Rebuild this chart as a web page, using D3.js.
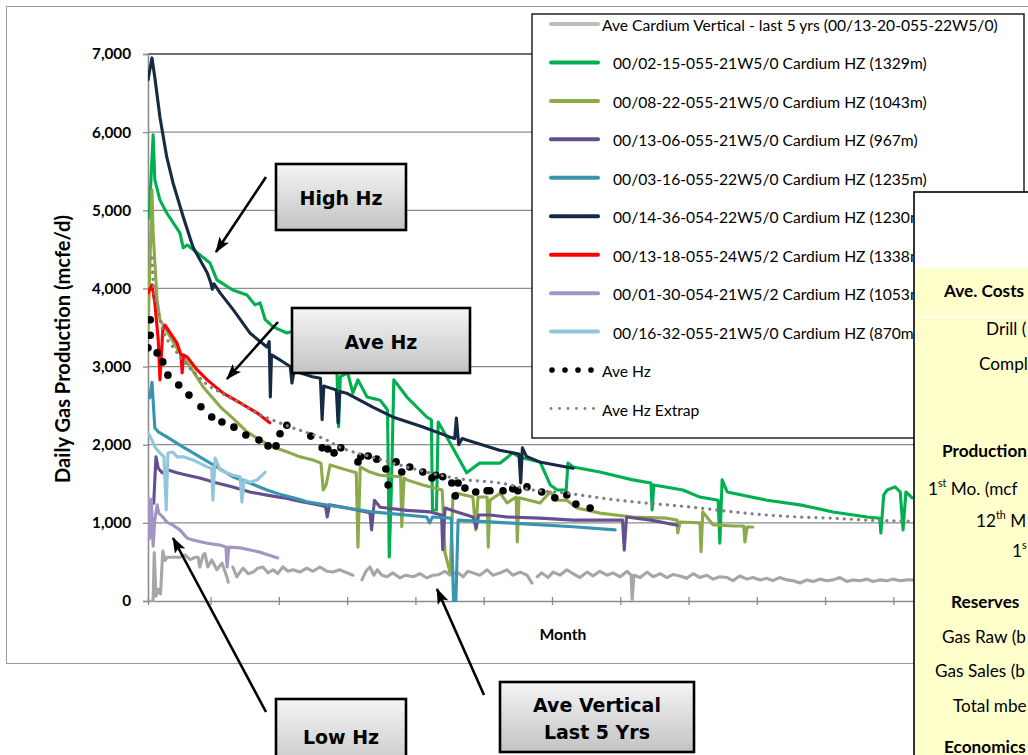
<!DOCTYPE html>
<html><head><meta charset="utf-8">
<script src="https://cdn.jsdelivr.net/npm/d3@7"></script>
<style>html,body{margin:0;padding:0;background:#fff;overflow:hidden}</style>
</head><body><svg id="c" width="1028" height="755"></svg>
<script>
// ---------------- DATA (month, mcfe/d) ----------------
const yTicks = [0,1000,2000,3000,4000,5000,6000,7000];
const xTickMonths = [0,11,23,35,47,59,71,83,95,107,119,131,143];

const aveVertical = [[0.6,0],[0.9,0],[1.1,620],[1.4,60],[1.8,150],[2.2,90],[2.6,640],[3.0,520],[3.4,560],[4.4,560],[5.6,560],[6.5,590],[7.4,530],[8.3,560],[8.8,560],[9.1,435],[9.7,590],[10.0,610],[10.5,435],[11.2,525],[12.1,400],[13.0,485],[13.9,300],[14.1,240],[14.5,null],[14.9,435],[15.6,310],[16.7,420],[17.6,350],[18.5,370],[19.3,420],[20.2,435],[21.1,360],[22.0,400],[22.8,350],[23.7,435],[24.6,380],[25.5,400],[26.7,370],[27.9,420],[29.0,380],[30.2,435],[31.5,380],[32.5,370],[33.7,400],[35.0,360],[36.0,330],[36.8,null],[37.6,270],[38.3,380],[39.0,435],[39.7,330],[40.3,400],[41.1,330],[42.0,310],[43.0,360],[44.3,295],[45.3,330],[46.6,310],[47.8,350],[49.0,295],[50.1,330],[51.0,335],[52.2,380],[53.1,330],[54.3,370],[55.4,310],[56.2,380],[57.1,360],[58.3,330],[59.6,400],[60.6,330],[61.9,360],[63.1,400],[64.1,330],[65.4,370],[66.6,330],[67.5,230],[68.0,null],[68.4,310],[69.2,360],[70.3,300],[71.2,370],[72.4,330],[73.6,400],[74.7,350],[75.9,300],[77.2,370],[78.2,320],[79.4,380],[80.7,330],[81.7,360],[83.0,310],[84.2,380],[84.9,330],[85.1,20],[85.4,330],[86.5,300],[87.7,370],[88.8,310],[90.0,350],[91.2,300],[92.3,340],[93.5,320],[94.7,290],[95.8,350],[97.0,300],[98.2,330],[99.3,280],[100.5,310],[101.8,300],[102.8,260],[104.0,320],[105.3,280],[106.3,300],[107.6,270],[108.8,290],[109.8,260],[111.0,300],[112.3,270],[113.4,260],[114.6,230],[115.8,270],[116.9,250],[118.1,280],[119.3,260],[120.4,270],[121.6,300],[122.8,250],[123.9,270],[125.1,260],[126.4,280],[127.4,250],[128.6,270],[129.9,260],[130.9,280],[132.2,260],[133.4,270],[134.4,270]];

const hz0215 = [[0.2,4900],[0.9,5965],[1.2,5390],[2.1,5130],[3.3,4965],[5.6,4710],[6.2,4520],[6.9,4555],[9.1,4430],[10.9,4325],[12.1,4110],[14.9,3980],[17.4,3915],[18.8,3790],[19.7,3815],[20.6,3600],[22.0,3507],[24.4,3430],[26.2,3470],[30.2,3190],[33.2,2960],[33.5,2230],[33.8,2870],[35.1,2920],[36.0,2660],[36.9,2830],[38.5,2610],[40.8,2570],[42.1,2445],[42.4,563],[42.8,1500],[43.2,2830],[43.9,2765],[45.5,2610],[49.0,2355],[49.8,2320],[50.0,1165],[50.7,1165],[51.0,2290],[52.5,2100],[56.0,1640],[58.3,1765],[61.9,1765],[64.1,1895],[65.3,1840],[68.9,1780],[70.7,1485],[71.9,1420],[73.5,1420],[73.8,1765],[74.7,1715],[79.4,1650],[85.2,1550],[88.4,1510],[88.6,1165],[88.9,1485],[94.0,1420],[97.0,1330],[100.2,1290],[100.5,740],[100.9,1550],[101.8,1395],[108.8,1290],[114.6,1230],[120.4,1140],[126.4,1075],[128.6,1060],[128.8,870],[129.3,1357],[129.9,1420],[131.3,1460],[132.2,1395],[132.7,910],[133.2,1395],[134.3,1320]];

const hz0822 = [[0,3430],[0.7,5260],[0.9,4710],[1.6,3850],[2.1,3600],[3.9,3380],[5.6,3175],[7.4,3000],[9.7,2740],[12.7,2485],[14.9,2340],[17.4,2165],[19.7,2060],[22.0,1970],[24.4,1910],[26.7,1845],[29.0,1805],[30.4,1765],[30.8,1420],[31.3,1485],[32.0,1740],[35.0,1675],[36.6,1640],[36.9,690],[37.3,1715],[39.0,1650],[40.8,1610],[44.4,1590],[44.6,950],[45.0,1575],[45.5,1550],[48.3,1485],[51.7,1420],[52.2,615],[53.1,360],[53.6,1357],[54.3,1380],[57.1,1330],[57.6,910],[58.0,1330],[59.6,1330],[59.8,690],[60.1,1290],[61.9,1380],[63.1,1255],[64.7,1330],[64.9,755],[65.2,1320],[68.9,1255],[70.7,1395],[71.9,1290],[73.6,1290],[75.4,1190],[79.4,1125],[85.2,1075],[91.2,1060],[93.0,1035],[93.1,870],[93.5,1010],[97.0,1000],[97.2,630],[97.5,1140],[99.3,975],[102.8,960],[104.7,960],[104.9,755],[105.3,947],[106.3,947]];

const hz1306 = [[1.0,1250],[1.4,1845],[1.8,1700],[2.5,1640],[3.4,1680],[5.1,1640],[6.9,1610],[9.1,1575],[12.1,1510],[14.9,1460],[17.9,1395],[20.9,1355],[23.8,1320],[27.0,1270],[30.0,1230],[31.2,1210],[31.5,1075],[31.9,1230],[35.0,1190],[39.0,1130],[39.3,910],[39.8,1290],[40.8,1200],[45.5,1160],[49.6,1140],[51.6,1100],[51.8,655],[52.2,1190],[54.3,1140],[57.1,1075],[57.7,935],[58.1,1100],[60.1,1100],[63.1,1075],[68.9,1060],[74.7,1035],[83.4,1035],[83.7,650],[84.1,1075],[88.4,1035],[93.0,970]];

const hz0316 = [[0.3,2600],[0.7,2800],[1.2,2215],[1.8,2165],[3.3,2100],[6.2,1970],[9.1,1845],[12.1,1715],[14.9,1590],[17.9,1510],[20.9,1420],[23.7,1355],[26.7,1300],[27.9,1270],[33.7,1203],[39.5,1140],[49.0,1075],[49.5,1000],[50.0,1075],[53.3,1060],[53.7,0],[54.1,0],[54.5,1035],[63.1,1000],[74.7,950],[82.1,910]];

const hz1436 = [[0,6670],[0.7,6950],[1.2,6700],[2.1,6190],[3.3,5680],[4.4,5350],[6.2,4915],[7.9,4530],[10.4,4200],[11.0,4080],[11.3,3990],[11.6,4060],[12.7,3940],[15.0,3725],[17.9,3430],[20.9,3250],[21.3,3320],[21.5,2610],[21.7,3150],[23.2,3085],[25.0,3000],[25.3,2790],[25.7,2950],[26.7,2920],[28.9,2870],[30.3,2850],[30.6,2320],[30.9,2750],[31.4,2740],[33.1,2700],[33.4,2280],[33.7,2680],[34.9,2660],[39.5,2480],[43.0,2355],[48.2,2230],[53.0,2100],[53.9,2080],[54.2,2340],[54.6,2000],[55.2,2080],[56.0,2060],[61.8,1930],[65.2,1880],[65.5,1510],[65.8,1960],[66.5,1850],[68.8,1780],[74.7,1700]];

const hz1318 = [[0,3940],[0.7,4045],[1.2,3815],[1.8,3340],[2.1,2830],[2.6,3470],[3.0,3530],[3.9,3430],[5.1,3300],[5.8,3150],[6.0,2920],[6.2,3150],[6.9,3120],[8.6,2960],[10.4,2830],[13.2,2660],[16.2,2535],[19.2,2405],[21.4,2280]];

const hz0130 = [[0,1330],[0.3,800],[0.6,1300],[0.9,700],[1.2,1035],[1.6,1230],[1.9,1125],[2.6,1075],[3.3,1010],[4.4,970],[5.6,910],[6.9,805],[7.9,780],[10.4,740],[12.7,715],[13.7,690],[13.9,435],[14.2,690],[16.2,680],[19.7,625],[22.8,550]];

const hz1632 = [[0,2150],[0.7,2060],[1.2,1970],[2.1,1895],[2.8,1845],[3.2,1165],[3.5,1895],[4.4,1905],[5.1,1845],[6.2,1845],[7.9,1805],[10.4,1715],[11.2,1700],[11.4,1290],[11.8,1830],[12.7,1675],[14.9,1610],[16.2,1590],[16.5,1265],[16.9,1550],[17.9,1520],[19.2,1550],[20.6,1650]];

const aveHz = [[0,3240],[0.4,3600],[0.4,3400],[1.6,3175],[2.6,3060],[3.5,2890],[5.4,2765],[7.2,2635],[9.3,2485],[11.2,2355],[13.0,2290],[15.1,2225],[17.2,2125],[19.5,2060],[21.1,1985],[22.5,1985],[23.2,2140],[24.4,2250],[28.6,2110],[30.6,1960],[31.6,1945],[32.7,1895],[33.9,1960],[36.9,1780],[37.4,1845],[38.7,1855],[40.2,1815],[41.8,1690],[42.2,1485],[43.6,1780],[44.6,1650],[46.0,1715],[48.3,1650],[49.9,1575],[50.6,1610],[51.8,1590],[53.4,1510],[54.0,1345],[54.5,1510],[55.7,1445],[57.6,1395],[59.6,1410],[60.1,1410],[62.4,1410],[64.1,1435],[65.0,1410],[66.6,1460],[69.2,1395],[71.5,1320],[73.6,1357],[75.2,1240],[77.7,1190]];

const aveHzExtrap = [[0.7,4390],[0.9,4100],[1.6,3770],[2.6,3470],[4.4,3250],[6.2,3070],[7.9,2940],[10.4,2770],[13.2,2650],[16.2,2530],[19.2,2400],[22.1,2310],[25.1,2225],[28.1,2150],[31.1,2070],[33.7,1970],[39.5,1840],[45.5,1715],[51.3,1610],[56.0,1550],[61.9,1510],[67.7,1420],[73.6,1380],[79.4,1320],[85.2,1270],[91.2,1230],[97.0,1190],[102.8,1140],[108.8,1100],[114.6,1075],[120.4,1060],[126.4,1035],[132.2,1025],[140,1015]];

const seriesNames = [
  "Ave Cardium Vertical - last 5 yrs (00/13-20-055-22W5/0)",
  "00/02-15-055-21W5/0 Cardium HZ (1329m)",
  "00/08-22-055-21W5/0 Cardium HZ (1043m)",
  "00/13-06-055-21W5/0 Cardium HZ (967m)",
  "00/03-16-055-22W5/0 Cardium HZ (1235m)",
  "00/14-36-054-22W5/0 Cardium HZ (1230m)",
  "00/13-18-055-24W5/2 Cardium HZ (1338m)",
  "00/01-30-054-21W5/2 Cardium HZ (1053m)",
  "00/16-32-055-21W5/0 Cardium HZ (870m)",
  "Ave Hz",
  "Ave Hz Extrap"
];
const seriesColors = ["#a6a6a6","#00b050","#8caa4a","#65508f","#3795ae","#162a44","#ff0000","#a295c3","#92c6da","#000000","#808080"];
const lineSeries = [aveVertical, hz0215, hz0822, hz1306, hz0316, hz1436, hz1318, hz0130, hz1632];

// table text as visible in the (cropped) reference
const tableRows = [
  {t:"Ave. Costs", b:true, x:944, y:290},
  {t:"Drill (", x:986, y:328},
  {t:"Compl", x:979, y:363},
  {t:"Production", b:true, x:942, y:450},
  {t:"1|st| Mo. (mcf", x:928, y:488},
  {t:"12|th| M", x:976, y:520},
  {t:"1|s|", x:1012, y:550},
  {t:"Reserves", b:true, x:951, y:601},
  {t:"Gas Raw (b", x:942, y:636},
  {t:"Gas Sales (b", x:935, y:670},
  {t:"Total mbe", x:953, y:705},
  {t:"Economics", b:true, x:944, y:746}
];

// ---------------- DRAW ----------------
const svg = d3.select('#c');
const defs = svg.append('defs');
const BODY = "Lato, 'Open Sans', sans-serif";
const CALL = "'DejaVu Sans', Verdana, sans-serif";

function fitSize(family, weight, str, target, base) {
  base = base || 20;
  const t = svg.append('text').attr('font-family', family).attr('font-weight', weight).attr('font-size', base).text(str);
  const w = t.node().getComputedTextLength();
  t.remove();
  return base * target / w;
}

const g1 = defs.append('linearGradient').attr('id','boxg').attr('x1',0).attr('y1',0).attr('x2',0).attr('y2',1);
g1.append('stop').attr('offset','0%').attr('stop-color','#f5f5f5');
g1.append('stop').attr('offset','100%').attr('stop-color','#c3c3c3');
defs.append('clipPath').attr('id','pclip').append('rect').attr('x',148).attr('y',40).attr('width',870).attr('height',562);
defs.append('marker').attr('id','arr').attr('viewBox','0 0 14 10').attr('refX',13).attr('refY',5)
  .attr('markerWidth',16).attr('markerHeight',12).attr('markerUnits','userSpaceOnUse').attr('orient','auto')
  .append('path').attr('d','M0,0 L14,5 L0,10 L3,5 Z').attr('fill','#000');

// chart frame
svg.append('rect').attr('x',6.5).attr('y',6.5).attr('width',1100).attr('height',657).attr('fill','#fff').attr('stroke','#9a9a9a').attr('stroke-width',1);

const x = d3.scaleLinear().domain([0,150]).range([148, 148 + 5.69*150]);
const y = d3.scaleLinear().domain([0,7000]).range([601,54]);

// gridlines
svg.append('g').selectAll('line').data(yTicks.filter(v => v > 0)).join('line')
  .attr('x1',148).attr('x2',1020).attr('y1',d=>y(d)).attr('y2',d=>y(d))
  .attr('stroke', d => d === 7000 ? '#3c3c3c' : '#8c8c8c').attr('stroke-width', d => d === 7000 ? 1.6 : 1.3);

// y axis
const tickFs = fitSize(BODY, 700, "7,000", 39);
const yAx = svg.append('g').attr('transform','translate(148,0)')
  .call(d3.axisLeft(y).tickValues(yTicks).tickFormat(d3.format(',')).tickSize(5).tickPadding(12));
yAx.select('.domain').attr('stroke','#8c8c8c').attr('stroke-width',1.6);
yAx.selectAll('.tick line').attr('stroke','#8c8c8c').attr('stroke-width',1.3);
yAx.selectAll('.tick text').attr('font-family',BODY).attr('font-weight',700).attr('font-size',tickFs).attr('fill','#000');

// x axis
const xAx = svg.append('g').attr('transform','translate(0,601)')
  .call(d3.axisBottom(x).tickValues(xTickMonths).tickFormat('').tickSize(4).tickSizeOuter(0));
xAx.select('.domain').attr('stroke','#8c8c8c').attr('stroke-width',1.6);
xAx.selectAll('.tick line').attr('stroke','#8c8c8c').attr('stroke-width',1.3).attr('y1',-4);

// axis titles
const ytFs = fitSize(BODY, 700, "Daily Gas Production (mcfe/d)", 268);
svg.append('text').attr('transform','translate(62,349) rotate(-90)').attr('text-anchor','middle').attr('dominant-baseline','central')
  .attr('font-family',BODY).attr('font-weight',700).attr('font-size',ytFs).text("Daily Gas Production (mcfe/d)");
const mFs = fitSize(BODY, 700, "Month", 47);
svg.append('text').attr('x',563).attr('y',634).attr('text-anchor','middle').attr('dominant-baseline','central')
  .attr('font-family',BODY).attr('font-weight',700).attr('font-size',mFs).text("Month");

// series
const plot = svg.append('g').attr('clip-path','url(#pclip)');
const line = d3.line().defined(d => d[1] !== null).x(d => x(d[0])).y(d => y(d[1]));
lineSeries.forEach((s, i) => {
  plot.append('path').datum(s).attr('d', line).attr('fill','none')
    .attr('stroke', seriesColors[i]).attr('stroke-width', 3.1).attr('stroke-linejoin','round').attr('stroke-linecap','round');
});
plot.append('g').selectAll('circle').data(aveHz).join('circle')
  .attr('cx', d => x(d[0])).attr('cy', d => y(d[1])).attr('r', 3.8).attr('fill', seriesColors[9]);
plot.append('path').datum(aveHzExtrap).attr('d', line.curve(d3.curveMonotoneX)).attr('fill','none')
  .attr('stroke', seriesColors[10]).attr('stroke-width', 3.2).attr('stroke-linecap','round').attr('stroke-dasharray','0.1 7');

// legend
const lg = svg.append('g');
lg.append('rect').attr('x',532).attr('y',14).attr('width',492).attr('height',424).attr('fill','#fff').attr('stroke','#000').attr('stroke-width',1.3);
const lgFs = fitSize(BODY, 400, seriesNames[1], 314);
seriesNames.forEach((nm, i) => {
  const ly = 24 + i*38.45;
  if (i < 9) {
    lg.append('line').attr('x1',551).attr('x2',598).attr('y1',ly).attr('y2',ly)
      .attr('stroke', i === 0 ? '#bdbdbd' : seriesColors[i]).attr('stroke-width',4).attr('stroke-linecap','round');
  } else if (i === 9) {
    [552,565,578,591].forEach(cx => lg.append('circle').attr('cx',cx).attr('cy',ly).attr('r',2.8).attr('fill','#000'));
  } else {
    d3.range(6).forEach(k => lg.append('circle').attr('cx',551 + k*8.5).attr('cy',ly).attr('r',1.4).attr('fill','#808080'));
  }
  lg.append('text').attr('x', (i === 0 || i >= 9) ? 602 : 613).attr('y', ly + 1).attr('dominant-baseline','central')
    .attr('font-family',BODY).attr('font-size',lgFs).attr('fill','#000').text(nm);
});

// table
const tb = svg.append('g');
tb.append('rect').attr('x',914).attr('y',192).attr('width',200).attr('height',600).attr('fill','#fff').attr('stroke','#000').attr('stroke-width',1.6);
tb.append('rect').attr('x',915).attr('y',268).attr('width',200).attr('height',600).attr('fill','#ffffcc');
tb.append('line').attr('x1',915).attr('x2',1028).attr('y1',317).attr('y2',317).attr('stroke','#fff').attr('stroke-width',1.5);
const tbFs = fitSize(BODY, 400, "Gas Sales (b", 90);
tableRows.forEach(r => {
  const t = tb.append('text').attr('x', r.x).attr('y', r.y).attr('dominant-baseline','central')
    .attr('font-family', BODY).attr('font-weight', r.b ? 700 : 400).attr('font-size', tbFs).attr('fill','#000');
  const parts = r.t.split('|');
  parts.forEach((p, k) => {
    if (!p) return;
    if (k % 2 === 1) t.append('tspan').attr('font-size', tbFs*0.62).attr('dy', -6).text(p);
    else t.append('tspan').attr('dy', k > 0 ? 6 : 0).text(p);
  });
});

// callouts
const callouts = [
  {lines:["High Hz"], x0:276, y0:164, x1:406, y1:230, ax:[266,177,216,252]},
  {lines:["Ave Hz"], x0:292, y0:308, x1:470, y1:373, ax:[278,322,227,379]},
  {lines:["Low Hz"], x0:276, y0:699, x1:406, y1:775, ax:[266,712,173,538], cy:736},
  {lines:["Ave Vertical","Last 5 Yrs"], x0:500, y0:682, x1:694, y1:752, ax:[484,695,437,589]}
];
const cFs = fitSize(CALL, 700, "High Hz", 83);
const cg = svg.append('g');
callouts.forEach(c => {
  cg.append('line').attr('x1',c.ax[0]).attr('y1',c.ax[1]).attr('x2',c.ax[2]).attr('y2',c.ax[3])
    .attr('stroke','#000').attr('stroke-width',2.6).attr('marker-end','url(#arr)');
  cg.append('rect').attr('x',c.x0).attr('y',c.y0).attr('width',c.x1-c.x0).attr('height',c.y1-c.y0)
    .attr('fill','url(#boxg)').attr('stroke','#000').attr('stroke-width',2.6);
  const cx = (c.x0 + c.x1)/2;
  const cy = c.cy || (c.y0 + c.y1)/2;
  const n = c.lines.length;
  c.lines.forEach((s, k) => {
    cg.append('text').attr('x', cx).attr('y', cy + (k - (n-1)/2)*27 + 1).attr('text-anchor','middle').attr('dominant-baseline','central')
      .attr('font-family', CALL).attr('font-weight',700).attr('font-size', cFs).attr('fill','#000').text(s);
  });
});
</script></body></html>
